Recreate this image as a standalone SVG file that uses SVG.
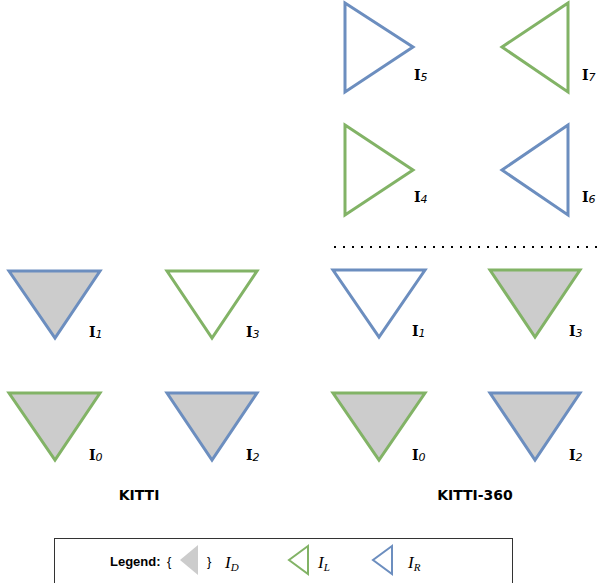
<svg xmlns="http://www.w3.org/2000/svg" width="602" height="583" viewBox="0 0 602 583">
  <style>
    .cam { stroke-width: 3; stroke-linejoin: miter; }
    .blue { stroke: #6c8ebf; }
    .green { stroke: #82b366; }
    .hollow { fill: #ffffff; }
    .dense { fill: #cccccc; }
    .lbl { font-family: "DejaVu Serif", "Liberation Serif", serif; font-weight: bold; font-size: 14px; fill: #000; }
    .sub { font-family: "DejaVu Sans", Verdana, sans-serif; font-style: italic; font-weight: normal; font-size: 11px; }
    .title { font-family: "DejaVu Sans", Verdana, sans-serif; font-weight: bold; font-size: 14px; fill: #000; text-anchor: middle; }
    .legend { font-family: "Liberation Sans", Arial, sans-serif; font-size: 13px; fill: #000; }
    .math { font-family: "Liberation Serif", "DejaVu Serif", serif; font-style: italic; font-size: 17px; fill: #000; }
    .mathsub { font-size: 11px; }
  </style>

  <!-- KITTI-360 side-looking fisheye cameras -->
  <g id="k360-cam5">
    <polygon class="cam blue hollow" points="345,3 413,47 345,92"/>
    <text class="lbl" x="414" y="80">I<tspan class="sub" dy="1">5</tspan></text>
  </g>
  <g id="k360-cam7">
    <polygon class="cam green hollow" points="568,3 502,47 568,92"/>
    <text class="lbl" x="582" y="80">I<tspan class="sub" dy="1">7</tspan></text>
  </g>
  <g id="k360-cam4">
    <polygon class="cam green hollow" points="345,125 413,170 345,215"/>
    <text class="lbl" x="414" y="202">I<tspan class="sub" dy="1">4</tspan></text>
  </g>
  <g id="k360-cam6">
    <polygon class="cam blue hollow" points="568,125 502,170 568,215"/>
    <text class="lbl" x="582" y="202">I<tspan class="sub" dy="1">6</tspan></text>
  </g>

  <!-- separator between fisheye and perspective rigs -->
  <g id="connectors">
    <line x1="334" y1="247" x2="598" y2="247" stroke="#000" stroke-width="2" stroke-dasharray="2 7"/>
  </g>

  <!-- KITTI stereo rig -->
  <g id="kitti-cam1">
    <polygon class="cam blue dense" points="9,271 100,271 55,338"/>
    <text class="lbl" x="89" y="337">I<tspan class="sub" dy="1">1</tspan></text>
  </g>
  <g id="kitti-cam3">
    <polygon class="cam green hollow" points="167,271 257,271 212,338"/>
    <text class="lbl" x="246" y="337">I<tspan class="sub" dy="1">3</tspan></text>
  </g>
  <g id="kitti-cam0">
    <polygon class="cam green dense" points="9,393 100,393 55,460"/>
    <text class="lbl" x="89" y="460">I<tspan class="sub" dy="1">0</tspan></text>
  </g>
  <g id="kitti-cam2">
    <polygon class="cam blue dense" points="167,393 257,393 212,460"/>
    <text class="lbl" x="246" y="460">I<tspan class="sub" dy="1">2</tspan></text>
  </g>
  <text id="kitti-title" class="title" x="139" y="500">KITTI</text>

  <!-- KITTI-360 perspective rig -->
  <g id="k360-cam1">
    <polygon class="cam blue hollow" points="333,270 425,270 379,337"/>
    <text class="lbl" x="412" y="336">I<tspan class="sub" dy="1">1</tspan></text>
  </g>
  <g id="k360-cam3">
    <polygon class="cam green dense" points="490,270 580,270 535,337"/>
    <text class="lbl" x="569" y="336">I<tspan class="sub" dy="1">3</tspan></text>
  </g>
  <g id="k360-cam0">
    <polygon class="cam green dense" points="333,393 425,393 379,460"/>
    <text class="lbl" x="412" y="460">I<tspan class="sub" dy="1">0</tspan></text>
  </g>
  <g id="k360-cam2">
    <polygon class="cam blue dense" points="490,393 580,393 535,460"/>
    <text class="lbl" x="569" y="460">I<tspan class="sub" dy="1">2</tspan></text>
  </g>
  <text id="k360-title" class="title" x="475" y="500">KITTI-360</text>

  <!-- legend -->
  <g id="legend">
    <rect x="54.5" y="538.5" width="458" height="50" fill="#ffffff" stroke="#333333" stroke-width="1"/>
    <text class="legend" x="110" y="566" font-weight="bold">Legend:</text>
    <text class="legend" x="167" y="566">{</text>
    <polygon points="198,545 180,560 198,575" fill="#cccccc"/>
    <text class="legend" x="207" y="566">}</text>
    <text class="math" x="225" y="568">I<tspan class="mathsub" dy="3">D</tspan></text>
    <polygon points="308,546 289,560 308,574" fill="none" stroke="#82b366" stroke-width="2"/>
    <text class="math" x="318" y="568">I<tspan class="mathsub" dy="3">L</tspan></text>
    <polygon points="392,546 373,560 392,574" fill="none" stroke="#6c8ebf" stroke-width="2"/>
    <text class="math" x="408" y="568">I<tspan class="mathsub" dy="3">R</tspan></text>
  </g>
</svg>
